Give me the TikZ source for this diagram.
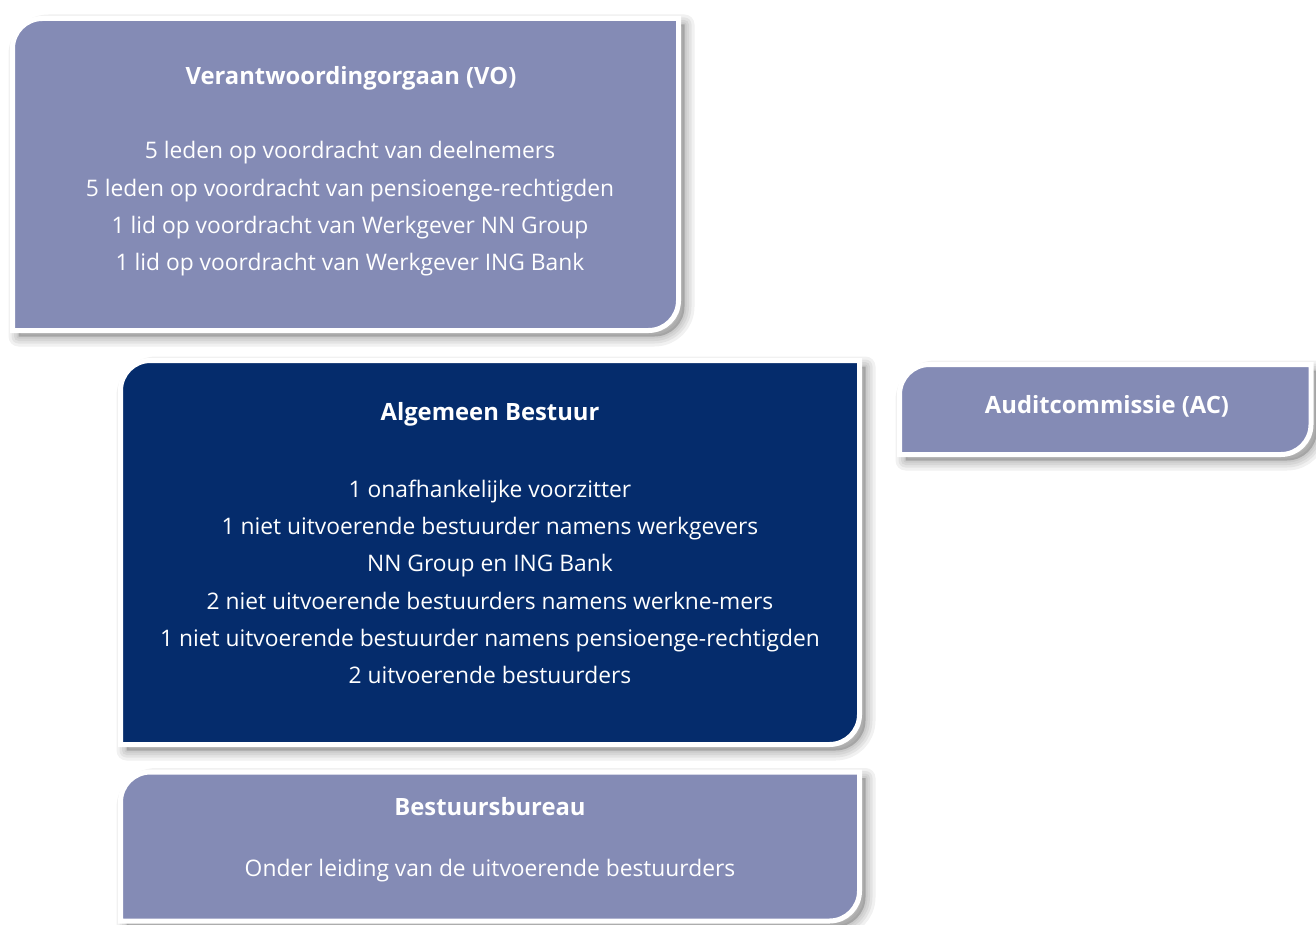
\documentclass[tikz,border=0pt]{standalone}
\usepackage{fontspec}
\setmainfont{Open Sans}
\usepackage{tikz}
\usepackage{xcolor}

\definecolor{lightblue}{RGB}{132,139,181}
\definecolor{darkblue}{RGB}{5,44,108}

\tikzset{
  boxtitle/.style={text=white, font=\fontsize{11.9}{14}\selectfont\bfseries},
  boxtext/.style={text=white, align=center, font=\fontsize{11.4}{18.65}\selectfont},
}

% box with rounded top-left and bottom-right corners, white rim and soft shadow
\newcommand{\orgbox}[5]{%
  \begin{scope}[shift={(6,6)}]
    \foreach \w in {20,14,9,4}
      \draw[black!80, opacity=0.07, line width=\w*0.5pt, line join=round] (#1,#4) -- (#1,#2+30) .. controls (#1,#2+13.4) and (#1+13.4,#2) .. (#1+30,#2) -- (#3,#2) -- (#3,#4-30) .. controls (#3,#4-13.4) and (#3-13.4,#4) .. (#3-30,#4) -- cycle;
    \fill[black!80, opacity=0.25] (#1,#4) -- (#1,#2+30) .. controls (#1,#2+13.4) and (#1+13.4,#2) .. (#1+30,#2) -- (#3,#2) -- (#3,#4-30) .. controls (#3,#4-13.4) and (#3-13.4,#4) .. (#3-30,#4) -- cycle;
  \end{scope}
  \draw[fill=#5, draw=white, line width=2.5pt] (#1,#4) -- (#1,#2+30) .. controls (#1,#2+13.4) and (#1+13.4,#2) .. (#1+30,#2) -- (#3,#2) -- (#3,#4-30) .. controls (#3,#4-13.4) and (#3-13.4,#4) .. (#3-30,#4) -- cycle;
}

\begin{document}
\begin{tikzpicture}[x=0.5pt,y=0.5pt,yscale=-1]
\useasboundingbox (0,0) rectangle (1316,925);

%Shape: Verantwoordingorgaan
\orgbox{12.5}{18.5}{678.5}{330.5}{lightblue}
%Shape: Algemeen Bestuur
\orgbox{120.5}{360.5}{859.5}{744.5}{darkblue}
%Shape: Auditcommissie
\orgbox{899.5}{364.5}{1311}{454.5}{lightblue}
%Shape: Bestuursbureau
\orgbox{120.5}{772}{859.5}{921}{lightblue}

% Text Node
\node[boxtitle] (voTitle) at (351,78) {Verantwoordingorgaan (VO)};
\node[boxtext] (voBody) at (350,209) {5 leden op voordracht van deelnemers\\
  5 leden op voordracht van pensioenge-rechtigden\\
  1 lid op voordracht van Werkgever NN Group\\
  1 lid op voordracht van Werkgever ING Bank};

% Text Node
\node[boxtitle] (abTitle) at (490,414) {Algemeen Bestuur};
\node[boxtext] (abBody) at (490,582) {1 onafhankelijke voorzitter\\
  1 niet uitvoerende bestuurder namens werkgevers\\
  NN Group en ING Bank\\
  2 niet uitvoerende bestuurders namens werkne-mers\\
  1 niet uitvoerende bestuurder namens pensioenge-rechtigden\\
  2 uitvoerende bestuurders};

% Text Node
\node[boxtitle] (acTitle) at (1107,406) {Auditcommissie (AC)};

% Text Node
\node[boxtitle] (bbTitle) at (490,807) {Bestuursbureau};
\node[boxtext] (bbBody) at (490,871) {Onder leiding van de uitvoerende bestuurders};

\end{tikzpicture}
\end{document}
